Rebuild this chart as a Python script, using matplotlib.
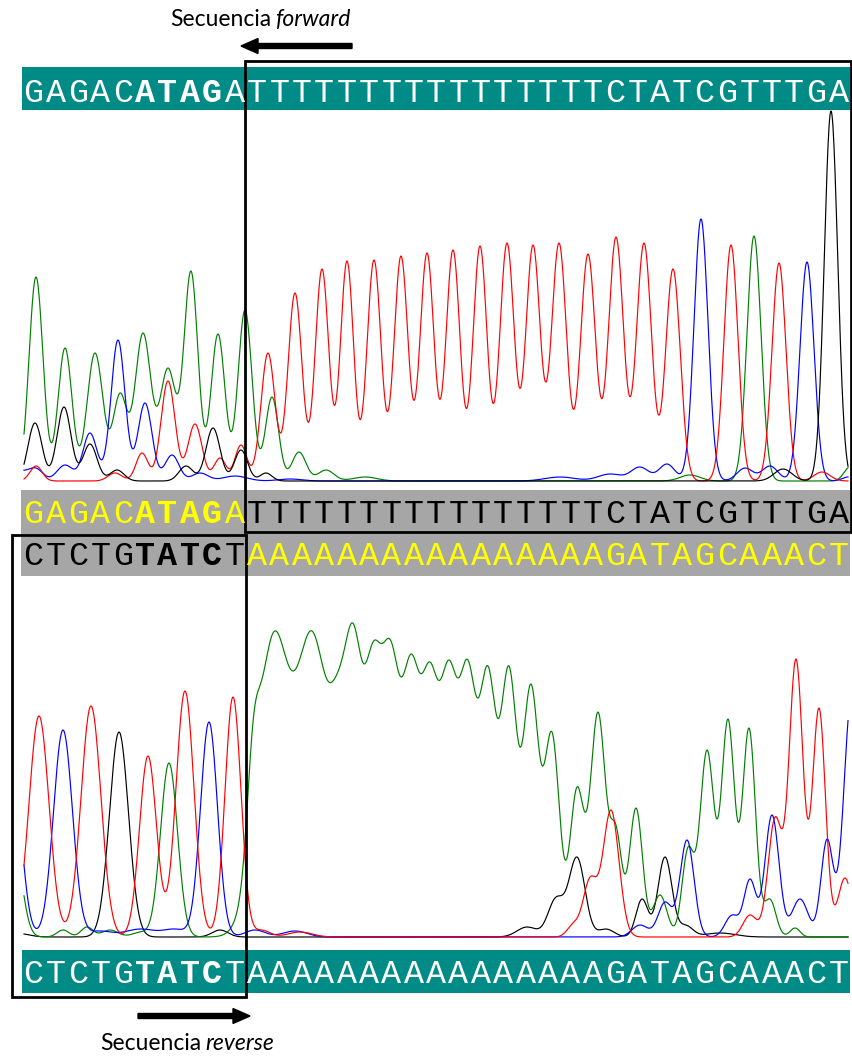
import numpy as np
import matplotlib
matplotlib.use('Agg')
import matplotlib.pyplot as plt
from matplotlib.patches import Rectangle

# sequences shown in the bars
seq_fwd = "GAGACATAGATTTTTTTTTTTTTTTTCTATCGTTTGA"
seq_rev = "CTCTGTATCTAAAAAAAAAAAAAAAAGATAGCAAACT"
bold_span = (5, 9)      # ATAG / TATC
mark_len = 10           # first 10 bases before the box edge

# chromatogram peaks: (scan position, apex height, width)
# forward read (upper panel)
top_green = [(36, 204, 7), (65, 133, 7), (95, 128, 8), (120, 88, 7), (143, 148, 8),
             (168, 113, 8), (191, 210, 7), (218, 147, 7), (245, 171, 7), (272, 84, 6.5),
             (299, 29, 7), (326, 11, 8), (365, 4, 12), (690, 6, 10), (754, 245, 7),
             (850, 14, 6)]
top_blue = [(20, 10, 8), (36, 13, 7), (65, 16, 8), (90, 48, 7), (118, 141, 7),
            (145, 78, 7), (172, 26, 7), (200, 8, 8), (235, 5, 12), (290, 2, 12),
            (560, 4, 15), (610, 7, 12), (640, 14, 9), (667, 17, 8), (701, 262, 7),
            (745, 13, 8), (770, 15, 8), (807, 219, 7), (848, 4, 6)]
top_red = [(36, 15, 6), (115, 8, 7), (142, 28, 6), (168, 100, 7), (195, 57, 7),
           (220, 23, 6), (241, 36, 6), (268, 128, 7), (295, 188, 7), (322, 212, 6.8),
           (347, 220, 6.6), (374, 221, 7), (401, 225, 7), (427, 228, 7), (453, 231, 7),
           (480, 235, 7), (507, 238, 7.2), (533, 236, 7.2), (559, 238, 7.5),
           (588, 227, 7.5), (616, 244, 7.5), (644, 238, 7.5), (673, 212, 7.3),
           (731, 236, 7), (779, 218, 7), (822, 9, 8)]
top_black = [(35, 58, 7), (64, 74, 7), (90, 37, 7), (117, 11, 7), (186, 15, 7),
             (213, 53, 7), (241, 31, 6.5), (266, 8, 6), (783, 12, 9), (831, 370, 6.7)]

# reverse read (lower panel)
bot_green = [(14, 90, 8), (63, 7, 6), (87, 10, 6), (110, 7, 8), (140, 5, 8),
             (169, 174, 8.5), (253, 215, 6), (273, 304, 16), (313, 305, 16),
             (339, 268, 9), (354, 312, 8.5), (373, 295, 8.8), (391, 296, 8.8),
             (411, 283, 8.8), (430, 275, 8.6), (449, 277, 8.6), (468, 277, 8.4),
             (488, 271, 8.2), (509, 271, 8), (531, 253, 7.8), (552, 205, 7.5), (577, 150, 7),
             (598, 225, 7.5), (616, 112, 6), (636, 129, 6.5), (660, 42, 7), (688, 90, 6),
             (707, 187, 7), (728, 218, 6.5), (749, 209, 6.5), (770, 38, 6), (795, 9, 5)]
bot_blue = [(12, 175, 9), (63, 207, 9.5), (100, 6, 12), (140, 8, 15), (175, 8, 12),
            (209, 215, 8.5), (255, 7, 10), (295, 6, 12), (640, 12, 8), (665, 35, 7),
            (687, 97, 7), (732, 22, 7), (750, 58, 6), (772, 122, 7), (800, 38, 8),
            (827, 98, 6), (852, 245, 8)]
bot_red = [(39, 221, 10), (91, 231, 10), (148, 181, 8.5), (185, 246, 9), (233, 240, 8),
           (262, 7, 8), (300, 5, 12), (573, 14, 6), (590, 60, 7), (611, 127, 8),
           (750, 22, 7), (775, 120, 7), (796, 278, 7), (819, 229, 6.5), (845, 59, 7)]
bot_black = [(15, 4, 12), (119, 205, 9.5), (220, 7, 8), (527, 10, 10), (556, 40, 8),
             (577, 80, 8), (606, 8, 8), (642, 38, 6), (665, 80, 7), (686, 12, 7),
             (720, 4, 15)]

TEAL = '#008b87'
GRAY = '#a6a6a6'
YELLOW = '#ffff00'
CH_COLORS = {'green': '#008000', 'blue': '#0000ff', 'red': '#ff0000', 'black': '#000000'}


def trace(peaks, xs):
    pos = np.array([p[0] for p in peaks], float)
    hgt = np.array([p[1] for p in peaks], float)
    sig = np.array([p[2] for p in peaks], float)

    def basis(v):
        return np.exp(-(v[:, None] - pos[None, :]) ** 2 / (2 * sig[None, :] ** 2))

    amp = np.linalg.solve(basis(pos), hgt)
    return basis(xs) @ amp


W, H = 853, 1057
fig = plt.figure(figsize=(W / 100, H / 100), dpi=100)

xs = np.arange(24, 848.5, 0.5)


def panel(top_px, base_px, channels):
    a = fig.add_axes([0, (H - base_px) / H, 1, (base_px - top_px) / H])
    a.set_xlim(0, W)
    a.set_ylim(0, base_px - top_px)
    a.axis('off')
    for name, peaks in channels:
        a.plot(xs, trace(peaks, xs), color=CH_COLORS[name], lw=0.85, clip_on=False)
    return a


panel(110, 481, [('green', top_green), ('blue', top_blue),
                 ('red', top_red), ('black', top_black)])
panel(576, 937, [('black', bot_black), ('green', bot_green),
                 ('blue', bot_blue), ('red', bot_red)])

# overlay in pixel coordinates
ax = fig.add_axes([0, 0, 1, 1], zorder=5)
ax.set_xlim(0, W)
ax.set_ylim(H, 0)
ax.axis('off')
ax.patch.set_alpha(0)

ax.add_patch(Rectangle((22, 67), 828, 43, color=TEAL, lw=0))
ax.add_patch(Rectangle((21, 490), 829, 86, color=GRAY, lw=0))
ax.add_patch(Rectangle((22, 950), 828, 43, color=TEAL, lw=0))

x0, cw = 22, 22.38


def draw_seq(seq, y, colors):
    for i, ch in enumerate(seq):
        bold = bold_span[0] <= i < bold_span[1]
        ax.text(x0 + (i + 0.5) * cw, y, ch, ha='center', va='baseline',
                fontsize=24, family='Liberation Mono',
                fontweight='bold' if bold else 'normal', color=colors(i))


draw_seq(seq_fwd, 102, lambda i: 'white')
draw_seq(seq_fwd, 523, lambda i: YELLOW if i < mark_len else 'black')
draw_seq(seq_rev, 565, lambda i: 'black' if i < mark_len else YELLOW)
draw_seq(seq_rev, 983, lambda i: 'white')

# boxes around the clean parts of each read
ax.add_patch(Rectangle((245, 61), 606, 471, fill=False, ec='black', lw=2))
ax.add_patch(Rectangle((12, 535), 234, 462, fill=False, ec='black', lw=2))

# arrows showing read direction
ax.arrow(352, 46, -111, 0, width=5, head_width=15, head_length=17,
         length_includes_head=True, fc='black', ec='black')
ax.arrow(138, 1016, 112, 0, width=5, head_width=15, head_length=17,
         length_includes_head=True, fc='black', ec='black')

for xstart, yb, word in [(170, 26, 'forward'), (100, 1050, 'reverse')]:
    t1 = ax.text(xstart, yb, 'Secuencia', fontsize=16.5, family='Lato', va='baseline')
    ax.annotate(word, xy=(1, 0), xycoords=t1, xytext=(4, 0), textcoords='offset pixels',
                fontsize=16.5, family='Lato', style='italic', va='bottom')

fig.savefig('out.png', dpi=100)
